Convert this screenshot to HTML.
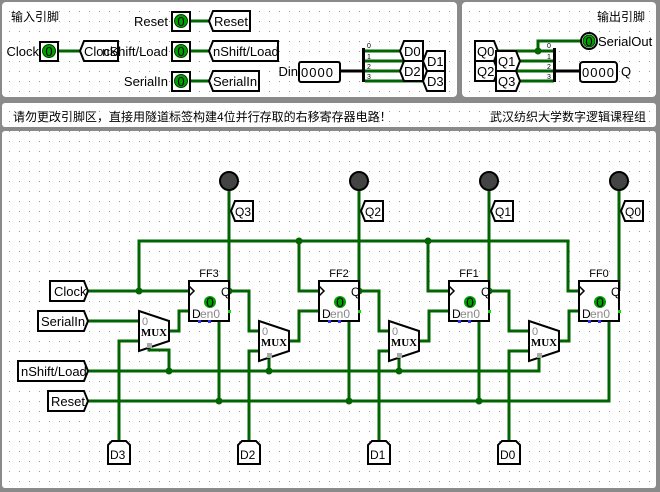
<!DOCTYPE html>
<html><head><meta charset="utf-8"><style>
html,body{margin:0;padding:0;background:#8a8a8a;width:660px;height:492px;overflow:hidden}
svg{display:block}
text{font-family:"Liberation Sans","Noto Sans CJK SC",sans-serif;fill:#000}
.w{stroke:#006400;stroke-width:3;fill:none}
.b{stroke:#000;stroke-width:2;fill:#fff}
.j{fill:#006400}
.mx{font-family:"Liberation Serif",serif;font-weight:bold}
.g{fill:#888}
</style></head><body>
<svg width="660" height="492" viewBox="0 0 660 492" font-size="12" xmlns="http://www.w3.org/2000/svg">
<defs><pattern id="d" width="10" height="10" patternUnits="userSpaceOnUse"><rect x="9" y="1" width="1" height="1" fill="#999"/></pattern></defs>
<rect x="2" y="2" width="455" height="95" rx="4" fill="#fff"/>
<rect x="462" y="2" width="194" height="95" rx="4" fill="#fff"/>
<rect x="2" y="103" width="654" height="24" rx="3" fill="#fff"/>
<rect x="2" y="131" width="654" height="357" rx="3" fill="#fff"/>
<rect x="2" y="2" width="455" height="95" fill="url(#d)"/>
<rect x="462" y="2" width="194" height="95" fill="url(#d)"/>
<rect x="2" y="103" width="654" height="24" fill="url(#d)"/>
<rect x="2" y="131" width="654" height="357" fill="url(#d)"/>

<!-- top-left -->
<text x="11" y="21">输入引脚</text>
<path class="w" d="M58,51 H80 M190,21 H209 M190,51 H209 M190,81 H209"/>
<text x="39" y="56" text-anchor="end" font-size="13">Clock</text>
<text x="168" y="26" text-anchor="end" font-size="13">Reset</text>
<text x="168" y="86" text-anchor="end" font-size="13">SerialIn</text>
<g>
<rect class="b" x="40" y="42" width="18" height="19"/><circle cx="49" cy="51" r="6.5" fill="#00a000" stroke="#004000"/><text x="49" y="56" text-anchor="middle" fill="#003000" font-size="13">0</text>
<rect class="b" x="172" y="12" width="18" height="19"/><circle cx="181" cy="21" r="6.5" fill="#00a000" stroke="#004000"/><text x="181" y="26" text-anchor="middle" font-size="13">0</text>
<rect class="b" x="172" y="42" width="18" height="19"/><circle cx="181" cy="51" r="6.5" fill="#00a000" stroke="#004000"/><text x="181" y="56" text-anchor="middle" font-size="13">0</text>
<rect class="b" x="172" y="72" width="18" height="19"/><circle cx="181" cy="81" r="6.5" fill="#00a000" stroke="#004000"/><text x="181" y="86" text-anchor="middle" font-size="13">0</text>
</g>
<path class="b" d="M80,51 L84,41 H118 V61 H84 Z"/><text x="84" y="56" font-size="13">Clock</text>
<text x="168" y="56" text-anchor="end" font-size="13">nShift/Load</text>
<path class="b" d="M209,21 L213,11 H250 V31 H213 Z"/><text x="214" y="26" font-size="13">Reset</text>
<path class="b" d="M209,51 L213,41 H278 V61 H213 Z"/><text x="213" y="56" font-size="13">nShift/Load</text>
<path class="b" d="M209,81 L213,71 H259 V91 H213 Z"/><text x="213" y="86" font-size="13">SerialIn</text>
<text x="298" y="76" text-anchor="end" font-size="13">Din</text>
<rect class="b" x="299" y="62" width="41" height="20" rx="2"/><text x="301" y="77" letter-spacing="1" font-size="13">0000</text>
<path d="M340,71 H363" stroke="#000" stroke-width="3"/>
<path class="w" d="M365,51 H400 M365,61 H423 M365,71 H400 M365,81 H423"/>
<rect x="362" y="48" width="3" height="34" fill="#000"/>
<text x="367" y="48" font-size="7">0</text><text x="367" y="59" font-size="7">1</text><text x="367" y="69" font-size="7">2</text><text x="367" y="79" font-size="7">3</text>
<path class="b" d="M423,61 L427,51 H445 V71 H427 Z"/><text x="427" y="66" font-size="13">D1</text>
<path class="b" d="M423,81 L427,71 H445 V91 H427 Z"/><text x="427" y="86" font-size="13">D3</text>
<path class="b" d="M400,51 L404,41 H423 V61 H404 Z"/><text x="404" y="56" font-size="13">D0</text>
<path class="b" d="M400,71 L404,61 H423 V81 H404 Z"/><text x="404" y="76" font-size="13">D2</text>

<!-- top-right -->
<text x="597" y="21">输出引脚</text>
<path class="w" d="M498,51 H554 M520,61 H554 M498,71 H554 M520,81 H554 M538,51 V41 H581"/>
<circle class="j" cx="538" cy="51" r="3.5"/>
<rect x="553" y="48" width="3" height="34" fill="#000"/>
<text x="547" y="48" font-size="7">0</text><text x="547" y="59" font-size="7">1</text><text x="547" y="69" font-size="7">2</text><text x="547" y="79" font-size="7">3</text>
<path d="M556,71 H580" stroke="#000" stroke-width="3"/>
<path class="b" d="M475,41 H494 L498,51 L494,61 H475 Z"/><text x="477" y="56" font-size="13">Q0</text>
<path class="b" d="M475,61 H494 L498,71 L494,81 H475 Z"/><text x="477" y="76" font-size="13">Q2</text>
<path class="b" d="M496,51 H516 L520,61 L516,71 H496 Z"/><text x="498" y="66" font-size="13">Q1</text>
<path class="b" d="M496,71 H516 L520,81 L516,91 H496 Z"/><text x="498" y="86" font-size="13">Q3</text>
<circle cx="589" cy="41" r="8" fill="#fff" stroke="#000" stroke-width="2"/><circle cx="589" cy="41" r="6" fill="#00a000" stroke="#004000"/><text x="589" y="46" text-anchor="middle" font-size="13">0</text>
<text x="598" y="46" font-size="13">SerialOut</text>
<rect class="b" x="580" y="62" width="37" height="20" rx="3"/><text x="582" y="77" letter-spacing="1" font-size="13">0000</text>
<text x="621" y="76" font-size="13">Q</text>

<!-- middle bar -->
<text x="13" y="121">请勿更改引脚区，直接用隧道标签构建4位并行存取的右移寄存器电路！</text>
<text x="646" y="121" text-anchor="end">武汉纺织大学数字逻辑课程组</text>

<!-- main wires -->
<path class="w" d="M88,291 H189 M139,291 V241 H568 V291 H579 M299,241 V291 H319 M428,241 V291 H449
M88,321 H139 M139,341 H119 V441 M149,347 V350 H169 V371 M169,331 H179 V311 H189
M88,371 H539 V357 M269,357 V371 M399,357 V371
M88,401 H609 V321 M219,321 V401 M349,321 V401 M479,321 V401
M229,181 V291 H249 V331 H259 M259,351 H249 V441 M289,341 H299 V311 H319
M359,181 V291 H379 V331 H389 M389,351 H379 V441 M419,341 H429 V311 H449
M489,181 V291 H509 V331 H529 M529,351 H509 V441 M559,341 H569 V311 H579
M619,181 V291"/>
<g class="j">
<circle cx="139" cy="291" r="3.5"/><circle cx="299" cy="241" r="3.5"/><circle cx="428" cy="241" r="3.5"/>
<circle cx="229" cy="291" r="3.5"/><circle cx="359" cy="291" r="3.5"/><circle cx="489" cy="291" r="3.5"/>
<circle cx="169" cy="371" r="3.5"/><circle cx="269" cy="371" r="3.5"/><circle cx="399" cy="371" r="3.5"/>
<circle cx="219" cy="401" r="3.5"/><circle cx="349" cy="401" r="3.5"/><circle cx="479" cy="401" r="3.5"/>
</g>

<!-- probes -->
<g fill="#444" stroke="#000" stroke-width="2">
<circle cx="229" cy="181" r="9"/><circle cx="359" cy="181" r="9"/><circle cx="489" cy="181" r="9"/><circle cx="619" cy="181" r="9"/>
</g>
<path class="b" d="M231,211 L235,201 H253 V221 H235 Z"/><text x="235" y="216">Q3</text>
<path class="b" d="M361,211 L365,201 H383 V221 H365 Z"/><text x="365" y="216">Q2</text>
<path class="b" d="M491,211 L495,201 H513 V221 H495 Z"/><text x="495" y="216">Q1</text>
<path class="b" d="M621,211 L625,201 H643 V221 H625 Z"/><text x="625" y="216">Q0</text>

<!-- left tunnels -->
<path class="b" d="M50,281 H84 L88,291 L84,301 H50 Z"/><text x="54" y="296" font-size="13">Clock</text>
<path class="b" d="M38,311 H84 L88,321 L84,331 H38 Z"/><text x="41" y="326" font-size="13">SerialIn</text>
<path class="b" d="M18,361 H84 L88,371 L84,381 H18 Z"/><text x="21" y="376" font-size="13">nShift/Load</text>
<path class="b" d="M48,391 H84 L88,401 L84,411 H48 Z"/><text x="51" y="406" font-size="13">Reset</text>

<!-- D tunnels bottom -->
<path class="b" d="M108,464 V445 L112,441 H126 L130,445 V464 Z"/><text x="110" y="459">D3</text>
<path class="b" d="M238,464 V445 L242,441 H256 L260,445 V464 Z"/><text x="240" y="459">D2</text>
<path class="b" d="M368,464 V445 L372,441 H386 L390,445 V464 Z"/><text x="370" y="459">D1</text>
<path class="b" d="M498,464 V445 L502,441 H516 L520,445 V464 Z"/><text x="500" y="459">D0</text>

<!-- flip-flops -->
<g transform="translate(189,281)">
<rect class="b" x="0" y="0" width="40" height="40"/><path d="M0,5 L5,10 L0,15" fill="none" stroke="#000" stroke-width="1.5"/>
<text x="20" y="-4" text-anchor="middle" font-size="11">FF3</text><text x="32" y="15" font-size="12">Q</text>
<circle cx="21" cy="21" r="6" fill="#00a000"/><text x="21" y="26" text-anchor="middle" fill="#004000" font-size="14">0</text>
<text x="3" y="37" font-size="12">D</text><text x="11" y="37" class="g" font-size="12">en0</text>
<rect x="9" y="39" width="3" height="3" fill="#33f"/><rect x="19" y="39" width="3" height="3" fill="#33f"/><rect x="39" y="29" width="3" height="3" fill="#0d0"/>
</g>
<g transform="translate(319,281)">
<rect class="b" x="0" y="0" width="40" height="40"/><path d="M0,5 L5,10 L0,15" fill="none" stroke="#000" stroke-width="1.5"/>
<text x="20" y="-4" text-anchor="middle" font-size="11">FF2</text><text x="32" y="15" font-size="12">Q</text>
<circle cx="21" cy="21" r="6" fill="#00a000"/><text x="21" y="26" text-anchor="middle" fill="#004000" font-size="14">0</text>
<text x="3" y="37" font-size="12">D</text><text x="11" y="37" class="g" font-size="12">en0</text>
<rect x="9" y="39" width="3" height="3" fill="#33f"/><rect x="19" y="39" width="3" height="3" fill="#33f"/><rect x="39" y="29" width="3" height="3" fill="#0d0"/>
</g>
<g transform="translate(449,281)">
<rect class="b" x="0" y="0" width="40" height="40"/><path d="M0,5 L5,10 L0,15" fill="none" stroke="#000" stroke-width="1.5"/>
<text x="20" y="-4" text-anchor="middle" font-size="11">FF1</text><text x="32" y="15" font-size="12">Q</text>
<circle cx="21" cy="21" r="6" fill="#00a000"/><text x="21" y="26" text-anchor="middle" fill="#004000" font-size="14">0</text>
<text x="3" y="37" font-size="12">D</text><text x="11" y="37" class="g" font-size="12">en0</text>
<rect x="9" y="39" width="3" height="3" fill="#33f"/><rect x="19" y="39" width="3" height="3" fill="#33f"/><rect x="39" y="29" width="3" height="3" fill="#0d0"/>
</g>
<g transform="translate(579,281)">
<rect class="b" x="0" y="0" width="40" height="40"/><path d="M0,5 L5,10 L0,15" fill="none" stroke="#000" stroke-width="1.5"/>
<text x="20" y="-4" text-anchor="middle" font-size="11">FF0</text><text x="32" y="15" font-size="12">Q</text>
<circle cx="21" cy="21" r="6" fill="#00a000"/><text x="21" y="26" text-anchor="middle" fill="#004000" font-size="14">0</text>
<text x="3" y="37" font-size="12">D</text><text x="11" y="37" class="g" font-size="12">en0</text>
<rect x="9" y="39" width="3" height="3" fill="#33f"/><rect x="19" y="39" width="3" height="3" fill="#33f"/><rect x="39" y="29" width="3" height="3" fill="#0d0"/>
</g>

<!-- muxes -->
<g transform="translate(139,311)"><path class="b" d="M0,0 L30,10 L30,30 L0,40 Z"/><text x="3" y="14" class="g" font-size="11">0</text><text x="15" y="25" text-anchor="middle" class="mx" font-size="11">MUX</text><rect x="8" y="32" width="5" height="5" fill="#aaa"/></g>
<g transform="translate(259,321)"><path class="b" d="M0,0 L30,10 L30,30 L0,40 Z"/><text x="3" y="14" class="g" font-size="11">0</text><text x="15" y="25" text-anchor="middle" class="mx" font-size="11">MUX</text><rect x="8" y="32" width="5" height="5" fill="#aaa"/></g>
<g transform="translate(389,321)"><path class="b" d="M0,0 L30,10 L30,30 L0,40 Z"/><text x="3" y="14" class="g" font-size="11">0</text><text x="15" y="25" text-anchor="middle" class="mx" font-size="11">MUX</text><rect x="8" y="32" width="5" height="5" fill="#aaa"/></g>
<g transform="translate(529,321)"><path class="b" d="M0,0 L30,10 L30,30 L0,40 Z"/><text x="3" y="14" class="g" font-size="11">0</text><text x="15" y="25" text-anchor="middle" class="mx" font-size="11">MUX</text><rect x="8" y="32" width="5" height="5" fill="#aaa"/></g>
</svg>
</body></html>
